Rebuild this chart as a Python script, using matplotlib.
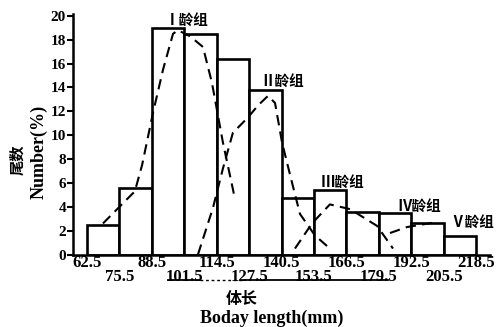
import matplotlib
matplotlib.use("Agg")
import matplotlib.pyplot as plt

plt.rcParams["font.family"] = ["Liberation Serif", "Noto Sans CJK SC", "DejaVu Sans"]

# ── Data ──────────────────────────────────────────────────────────────────────
bin_edges = [62.5, 75.5, 88.5, 101.5, 114.5, 127.5, 140.5,
             153.5, 166.5, 179.5, 192.5, 205.5, 218.5]
percent = [2.5, 5.6, 19.0, 18.5, 16.4, 13.8, 4.7, 5.4, 3.6, 3.5, 2.65, 1.55]

# fitted age-group curves (x = body length mm, y = %)
g1_x = [68.9, 81.7, 84.6, 89.0, 93.0, 97.0, 99.0, 103.8, 109.0, 112.6, 117.0, 121.8]
g1_y = [2.6, 5.3, 7.5, 11.9, 15.5, 18.5, 18.8, 18.3, 17.4, 14.4, 9.4, 4.7]
g2_x = [107.0, 113.0, 117.0, 121.0, 127.1, 131.1, 135.1, 137.9, 140.7, 143.9, 147.9, 153.9, 159.9]
g2_y = [0.0, 3.9, 7.2, 10.2, 11.5, 12.5, 13.3, 12.7, 9.4, 6.7, 3.4, 1.6, 0.5]
g3_x = [145.9, 152.7, 159.9, 168.0, 178.8, 185.2]
g3_y = [0.5, 2.6, 4.2, 3.8, 2.4, 0.5]
g4_x = [184.0, 190.8, 200.8]
g4_y = [1.8, 2.3, 2.65]

group_labels = ["Ⅰ龄组", "Ⅱ龄组", "Ⅲ龄组", "Ⅳ龄组", "Ⅴ龄组"]
label_x = [102.6, 140.7, 165.1, 195.6, 216.9]
label_y = [19.5, 14.4, 5.95, 3.9, 2.6]

# ── Figure ────────────────────────────────────────────────────────────────────
fig = plt.figure(figsize=(4.99, 3.27), dpi=100)
ax = fig.add_axes([0.1463, 0.2217, 0.8357, 0.7355])

widths = [b - a for a, b in zip(bin_edges[:-1], bin_edges[1:])]
ax.bar(bin_edges[:-1], percent, width=widths, align="edge",
       facecolor="white", edgecolor="black", linewidth=1.9, zorder=2)

for xs, ys in [(g1_x, g1_y), (g2_x, g2_y), (g3_x, g3_y), (g4_x, g4_y)]:
    ax.plot(xs, ys, color="black", linewidth=1.5,
            linestyle=(0, (5, 3)), zorder=3)

for txt, x, y in zip(group_labels, label_x, label_y):
    ax.text(x, y, txt, ha="center", va="center", fontsize=10.5,
            fontweight="bold", clip_on=False, zorder=4)

ax.set_xlim(56.9, 224.1)
ax.set_ylim(0, 20.16)

for side in ("top", "right"):
    ax.spines[side].set_visible(False)
for side in ("left", "bottom"):
    ax.spines[side].set_linewidth(1.8)

ax.set_yticks(range(0, 21, 2))
ax.set_yticklabels([str(v) for v in range(0, 21, 2)],
                   fontsize=11, fontweight="bold")
ax.tick_params(axis="y", direction="out", length=4, width=1.5, pad=1)

# x tick labels staggered over two rows
ax.set_xticks([])
for i, edge in enumerate(bin_edges):
    row_y = -0.035 if i % 2 == 0 else -0.095
    ax.text(edge, row_y, f"{edge}", transform=ax.get_xaxis_transform(),
            ha="center", va="center", fontsize=12, fontweight="bold")

# bracket line through the lower row of labels
ax.plot([95.0, 108.0], [-0.105, -0.105], transform=ax.get_xaxis_transform(),
        color="black", linewidth=1.3, clip_on=False)
ax.plot([108.0, 126.0], [-0.105, -0.105], transform=ax.get_xaxis_transform(),
        color="black", linewidth=1.0, linestyle=(0, (2, 2)), clip_on=False)
ax.plot([126.0, 183.0], [-0.105, -0.105], transform=ax.get_xaxis_transform(),
        color="black", linewidth=1.3, clip_on=False)

fig.text(242 / 499, 1 - 300 / 327, "体长", ha="center", va="center",
         fontsize=11.5, fontweight="bold")
fig.text(272 / 499, 1 - 318 / 327, "Boday length(mm)", ha="center", va="center",
         fontsize=13, fontweight="bold")
fig.text(18 / 499, 1 - 160 / 327, "尾数", rotation=90, ha="center", va="center",
         fontsize=11, fontweight="bold")
fig.text(39 / 499, 1 - 152 / 327, "Number(%)", rotation=90, ha="center", va="center",
         fontsize=13, fontweight="bold")

fig.savefig("out.png", dpi=100)
